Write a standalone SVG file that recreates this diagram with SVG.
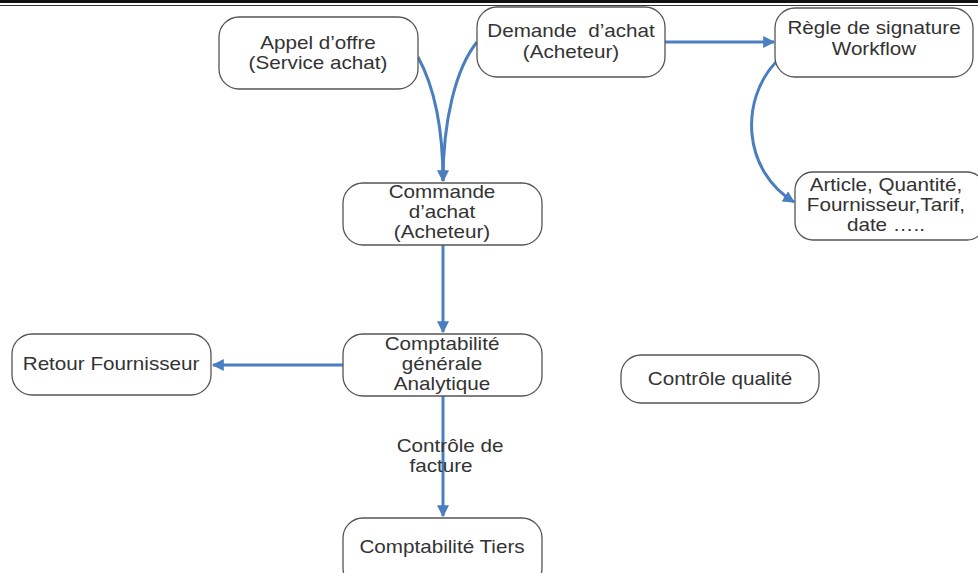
<svg xmlns="http://www.w3.org/2000/svg" width="978" height="573" viewBox="0 0 978 573">
  <defs>
    <style>
      .box { fill: #ffffff; stroke: #555555; stroke-width: 1.3; }
      .t { font-family: "Liberation Sans", Arial, sans-serif; font-size: 17.5px; fill: #333333; text-anchor: middle; }
      .c { fill: none; stroke: #4a7ebf; stroke-width: 3; }
    </style>
    <marker id="arr" viewBox="0 0 10 10" refX="9" refY="5" markerWidth="4" markerHeight="4" orient="auto" markerUnits="strokeWidth">
      <path d="M0,0 L10,5 L0,10 z" fill="#4a7ebf"/>
    </marker>
  </defs>
  <rect x="0" y="0" width="978" height="573" fill="#ffffff"/>
  <rect x="0" y="0" width="978" height="3" fill="#111111"/>
  <line x1="0" y1="5.5" x2="978" y2="5.5" stroke="#333333" stroke-width="1"/>

  <g id="connectors">
    <path class="c" d="M418,57 C436,90 443,130 443,181" marker-end="url(#arr)"/>
    <path class="c" d="M477,42 C456,68 443,120 443,181"/>
    <path class="c" d="M665,42 L774,42" marker-end="url(#arr)"/>
    <path class="c" d="M776,62 C740,100 742,170 794,202" marker-end="url(#arr)"/>
    <path class="c" d="M443,245 L443,332" marker-end="url(#arr)"/>
    <path class="c" d="M344,365 L213,365" marker-end="url(#arr)"/>
    <path class="c" d="M443,396 L443,516" marker-end="url(#arr)"/>
    <g transform="scale(1.18,1)">
      <text class="t" x="381.4" y="452">Contrôle de</text>
      <text class="t" x="373.7" y="472">facture</text>
    </g>
  </g>

  <g id="appel">
    <rect class="box" x="219" y="17" width="199" height="72" rx="20"/>
    <g transform="scale(1.18,1)">
      <text class="t" x="269.5" y="49">Appel d’offre</text>
      <text class="t" x="269.5" y="69">(Service achat)</text>
    </g>
  </g>
  <g id="demande">
    <rect class="box" x="477" y="7" width="188" height="70" rx="20"/>
    <g transform="scale(1.18,1)">
      <text class="t" x="483.9" y="37" xml:space="preserve">Demande  d’achat</text>
      <text class="t" x="483.9" y="58">(Acheteur)</text>
    </g>
  </g>
  <g id="regle">
    <rect class="box" x="775" y="8" width="198" height="69" rx="20"/>
    <g transform="scale(1.18,1)">
      <text class="t" x="740.7" y="34">Règle de signature</text>
      <text class="t" x="740.7" y="55">Workflow</text>
    </g>
  </g>
  <g id="article">
    <rect class="box" x="795" y="172" width="190" height="68" rx="18"/>
    <g transform="scale(1.18,1)">
      <text class="t" x="750.8" y="191">Article, Quantité,</text>
      <text class="t" x="750.8" y="211">Fournisseur,Tarif,</text>
      <text class="t" x="750.8" y="231">date …..</text>
    </g>
  </g>
  <g id="commande">
    <rect class="box" x="343" y="183" width="199" height="62" rx="20"/>
    <g transform="scale(1.18,1)">
      <text class="t" x="374.6" y="198">Commande</text>
      <text class="t" x="374.6" y="218">d’achat</text>
      <text class="t" x="374.6" y="238">(Acheteur)</text>
    </g>
  </g>
  <g id="comptabilite">
    <rect class="box" x="343" y="334" width="199" height="62" rx="20"/>
    <g transform="scale(1.18,1)">
      <text class="t" x="374.6" y="350">Comptabilité</text>
      <text class="t" x="374.6" y="370">générale</text>
      <text class="t" x="374.6" y="390">Analytique</text>
    </g>
  </g>
  <g id="retour">
    <rect class="box" x="12" y="334" width="199" height="61" rx="20"/>
    <g transform="scale(1.18,1)">
      <text class="t" x="94.1" y="370">Retour Fournisseur</text>
    </g>
  </g>
  <g id="qualite">
    <rect class="box" x="621" y="355" width="198" height="48" rx="20"/>
    <g transform="scale(1.18,1)">
      <text class="t" x="610.2" y="385">Contrôle qualité</text>
    </g>
  </g>
  <g id="tiers">
    <rect class="box" x="343" y="518" width="199" height="70" rx="20"/>
    <g transform="scale(1.18,1)">
      <text class="t" x="374.6" y="553">Comptabilité Tiers</text>
    </g>
  </g>
</svg>
